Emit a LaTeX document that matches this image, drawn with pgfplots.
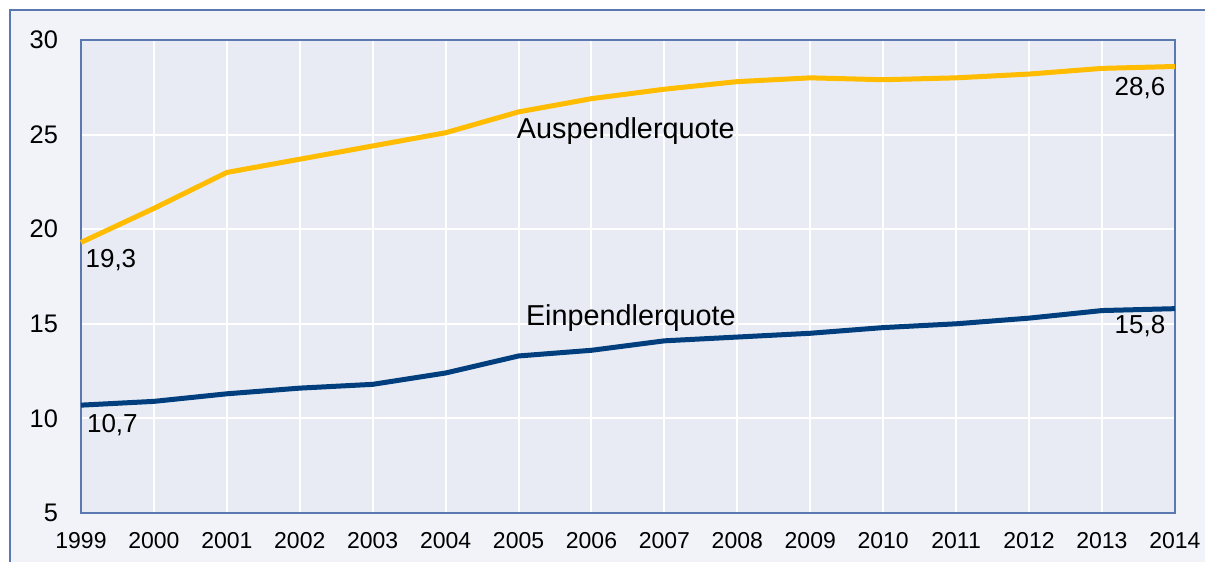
\documentclass[border=0pt]{standalone}
\usepackage{pgfplots}
\pgfplotsset{compat=1.18}
\usepackage{fontspec}
\setmainfont{Liberation Sans}
\definecolor{aus}{HTML}{FFBC00}
\definecolor{ein}{HTML}{003E7E}
\definecolor{frame}{HTML}{5B79B1}
\definecolor{bgout}{HTML}{F1F3F9}
\definecolor{bgin}{HTML}{E8EBF3}
\begin{document}
\begin{tikzpicture}
  % background of the outer chart box
  \fill[white] (-40.5pt,-24.5pt) rectangle (562pt,256.5pt);
  \fill[bgout] (-35.5pt,-24.5pt) rectangle (562pt,251.5pt);
  \draw[frame, line width=1pt] (-35.5pt,-24.5pt) -- (-35.5pt,251.5pt) -- (562pt,251.5pt);
  \begin{axis}[
      scale only axis,
      width=547pt, height=236.5pt,
      xmin=1999, xmax=2014, ymin=5, ymax=30,
      xtick={1999,...,2014}, ytick={5,10,...,30},
      major tick length=0pt,
      grid=major,
      major grid style={white, line width=1pt},
      axis background/.style={fill=bgin},
      axis line style={frame, line width=1pt},
      font=\fontsize{14.4}{16}\selectfont,
      /pgf/number format/assume math mode=true,
      /pgf/number format/1000 sep={},
      xticklabel style={font=\fontsize{11.5}{13}\selectfont, yshift=-6pt},
      yticklabel style={font=\fontsize{12.7}{14}\selectfont, xshift=-8pt},
      clip=false,
    ]
    \addplot[aus, line width=2.5pt] coordinates {
      (1999,19.3) (2000,21.1) (2001,23.0) (2002,23.7) (2003,24.4)
      (2004,25.1) (2005,26.2) (2006,26.9) (2007,27.4) (2008,27.8)
      (2009,28.0) (2010,27.9) (2011,28.0) (2012,28.2) (2013,28.5)
      (2014,28.6)
    };
    \addplot[ein, line width=2.5pt] coordinates {
      (1999,10.7) (2000,10.9) (2001,11.3) (2002,11.6) (2003,11.8)
      (2004,12.4) (2005,13.3) (2006,13.6) (2007,14.1) (2008,14.3)
      (2009,14.5) (2010,14.8) (2011,15.0) (2012,15.3) (2013,15.7)
      (2014,15.8)
    };
    \begin{scope}[font=\fontsize{13}{15}\selectfont]
      \node at (axis cs:1999.41,18.37) {19,3};
      \node at (axis cs:1999.43,9.65) {10,7};
      \node at (axis cs:2013.52,27.46) {28,6};
      \node at (axis cs:2013.52,14.9) {15,8};
    \end{scope}
    \node at (axis cs:2006.47,25.19) {Auspendlerquote};
    \node at (axis cs:2006.54,15.31) {Einpendlerquote};
  \end{axis}
  \pgfresetboundingbox
  \path (-40.5pt,-24.5pt) rectangle (562pt,256.5pt);
\end{tikzpicture}
\end{document}
